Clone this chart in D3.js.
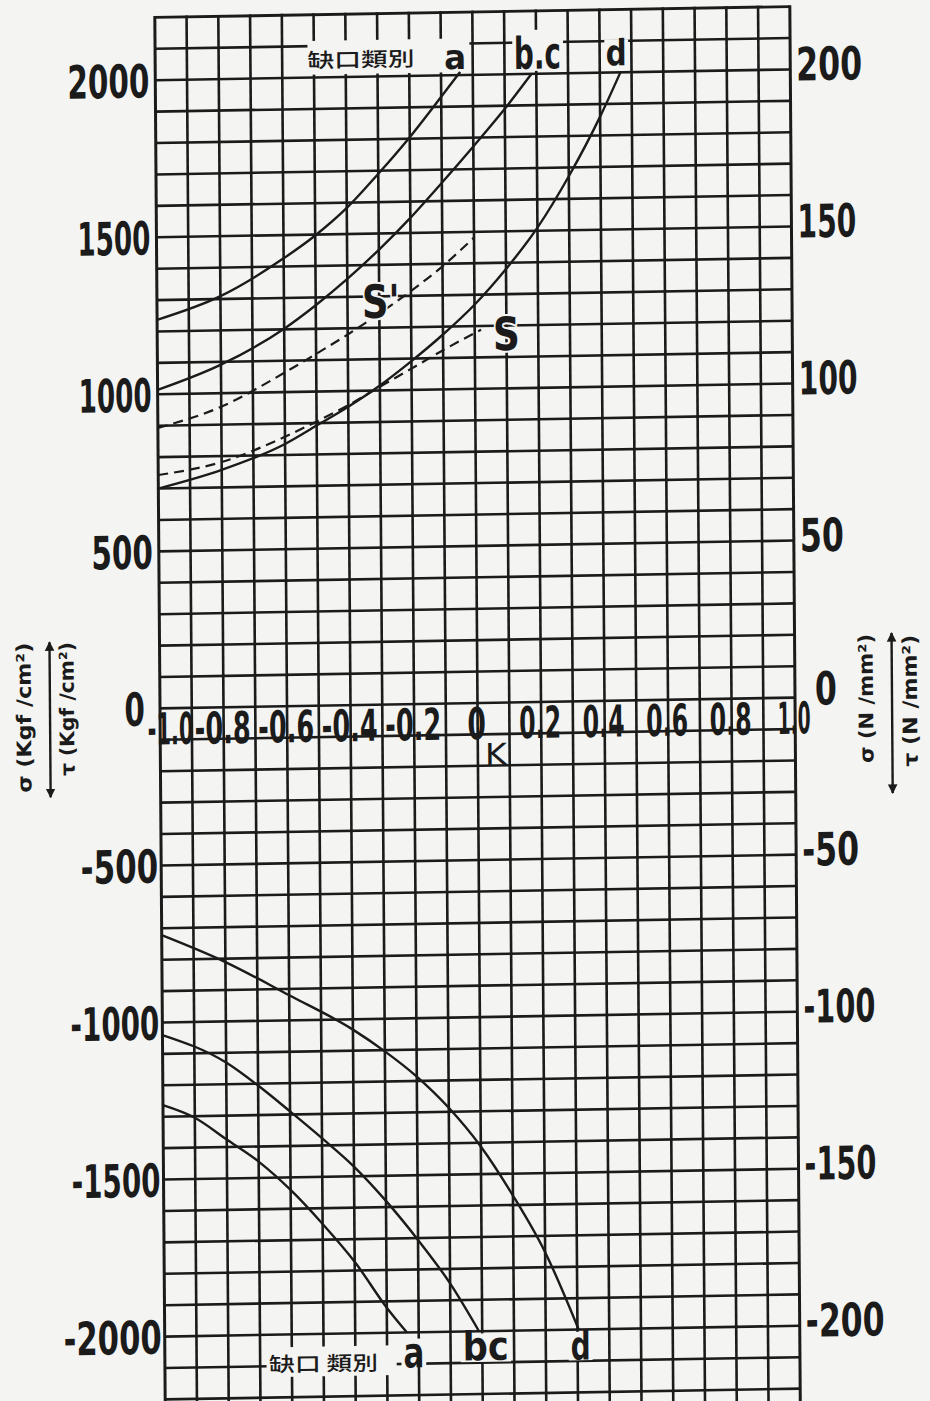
<!DOCTYPE html>
<html><head><meta charset="utf-8">
<script src="https://cdn.jsdelivr.net/npm/d3@7"></script>
<style>
html,body{margin:0;padding:0;background:#f4f4f2;}
svg{display:block;}
</style></head>
<body>
<svg id="chart" width="930" height="1401"></svg>
<script>
// ---------------- data ----------------
const kTicks      = [-1.0,-0.8,-0.6,-0.4,-0.2,0,0.2,0.4,0.6,0.8,1.0];
const kTickLabels = ["-1.0","-0.8","-0.6","-0.4","-0.2","0","0.2","0.4","0.6","0.8","1.0"];
const leftTicks   = [2000,1500,1000,500,0,-500,-1000,-1500,-2000];   // kgf/cm2
const rightTicks  = [200,150,100,50,0,-50,-100,-150,-200];           // N/mm2
const legendTitleTop    = "缺口類別";
const legendTitleBottom = "缺口 類別";
const seriesLabels = ["a","b.c","d","S'","S"];
const bottomLabels = ["a","bc","d"];
const axisLabelLeft  = ["σ (Kgf /cm²)","τ (Kgf /cm²)"];
const axisLabelRight = ["σ (N /mm²)","τ (N /mm²)"];
const kLabel = "K";

// curves: [K, stress kgf/cm2]
const curveA_upper  = [[-1,1237],[-0.8,1309],[-0.6,1426],[-0.5,1497],[-0.4,1583],[-0.3,1690],[-0.2,1805],[-0.1,1932],[-0.04,2010]];
const curveBC_upper = [[-1,1014],[-0.8,1091],[-0.6,1202],[-0.5,1275],[-0.4,1357],[-0.3,1448],[-0.2,1548],[-0.1,1658],[0,1772],[0.1,1890],[0.185,2000]];
const curveD_upper  = [[-1,700],[-0.8,756],[-0.6,835],[-0.5,892],[-0.4,950],[-0.3,1016],[-0.2,1092],[-0.1,1175],[0,1268],[0.1,1380],[0.2,1510],[0.3,1672],[0.4,1860],[0.465,2000]];
const curveSprime   = [[-1,893],[-0.8,957],[-0.6,1062],[-0.5,1120],[-0.4,1180],[-0.3,1245],[-0.2,1315],[-0.1,1392],[0,1482]];
const curveS        = [[-1,743],[-0.8,781],[-0.6,858],[-0.5,905],[-0.4,955],[-0.3,1012],[-0.2,1068],[-0.1,1125],[0.02,1188]];
const curveA_lower  = [[-1,-1263],[-0.9,-1305],[-0.8,-1376],[-0.7,-1448],[-0.6,-1540],[-0.5,-1650],[-0.4,-1772],[-0.3,-1920],[-0.237,-2000]];
const curveBC_lower = [[-1,-1040],[-0.8,-1131],[-0.7,-1206],[-0.6,-1290],[-0.5,-1377],[-0.4,-1469],[-0.3,-1580],[-0.2,-1706],[-0.1,-1846],[-0.01,-2000]];
const curveD_lower  = [[-1,-722],[-0.8,-811],[-0.6,-920],[-0.4,-1033],[-0.3,-1104],[-0.2,-1186],[-0.1,-1287],[0,-1412],[0.1,-1570],[0.2,-1752],[0.304,-2000]];

// ---------------- style ----------------
const paper = "#f4f4f2", ink = "#1b1b1b";
const numFont = "'DejaVu Sans', 'Liberation Sans', sans-serif";
const cjkFont = "'Noto Sans CJK TC', 'Noto Sans CJK JP', sans-serif";
const leftW  = {d:20.5,'1':11.5,'-':16,'.':5};
const rightW = {d:22,'1':15,'-':13,'.':5};
const botW   = {d:18.5,'1':9.5,'-':14,'.':5};
function labW(s, t){ let w=0; for (const ch of s) w += (t[ch] !== undefined ? t[ch] : t.d); return w; }

const svg = d3.select("#chart");
svg.append("rect").attr("width",930).attr("height",1401).attr("fill",paper);
const defs = svg.append("defs");
defs.append("marker").attr("id","arr").attr("viewBox","0 0 10 10").attr("refX",9).attr("refY",5)
  .attr("markerWidth",4).attr("markerHeight",5).attr("markerUnits","strokeWidth")
  .attr("orient","auto-start-reverse")
  .append("path").attr("d","M0,0L10,5L0,10z").attr("fill",ink);

// slight skew of the scanned sheet
const g = svg.append("g").attr("transform","matrix(1,-0.017,0.0075,1,-6.3,5.14)");

const x  = d3.scaleLinear().domain([-1,1]).range([161,796]);
const y  = d3.scaleLinear().domain([2200,-2200]).range([15,1397]);
const yR = d3.scaleLinear().domain([220,-220]).range([y(2200)-6, y(-2200)-6]);

// text helper: horizontally fitted text (so the box really has the wanted width)
function styleText(t, size, font, weight){
  t.style("font-family", font).style("font-size", size + "px")
   .style("font-weight", weight || "normal").attr("fill", ink);
}
function fit(t, px, py, w, anchor, rot){
  t.attr("x",0).attr("y",0).attr("dy",null).attr("text-anchor","start");
  const w0 = t.node().getComputedTextLength();
  const s = w / w0;
  const dx = anchor === "middle" ? -w/2 : anchor === "end" ? -w : 0;
  t.attr("transform", `translate(${px},${py})` + (rot ? ` rotate(${rot})` : "") + ` translate(${dx},0) scale(${s},1)`);
  return t;
}
function label(parent, str, px, py, size, w, font, weight, anchor, rot){
  const t = parent.append("text").text(str);
  styleText(t, size, font, weight);
  return fit(t, px, py, w, anchor, rot);
}

// ---------------- grid ----------------
const hVals = d3.range(-2200, 2201, 100);
const vVals = d3.range(-10, 11).map(i => i/10);
g.append("g").selectAll("line").data(hVals).join("line")
  .attr("x1", x(-1)).attr("x2", x(1))
  .attr("y1", d => y(d)).attr("y2", d => y(d))
  .attr("stroke", ink).attr("stroke-width", d => d === 2200 ? 2.9 : 2.6);
g.append("g").selectAll("line").data(vVals).join("line")
  .attr("x1", d => x(d)).attr("x2", d => x(d))
  .attr("y1", y(2200) - 1.4).attr("y2", y(-2300))
  .attr("stroke", ink).attr("stroke-width", d => Math.abs(d) === 1 ? 3 : 2.6);

// ---------------- knockouts behind legend labels ----------------
const knock = [
  [x(-0.52), y(2117), x(-0.01), y(2009)],
  [x(0.125), y(2140), x(0.285), y(2009)],
  [x(0.415), y(2105), x(0.49),  y(2009)],
  [x(-0.68), y(-2040), x(-0.27), y(-2135)],
  [x(-0.255),y(-2020), x(-0.177),y(-2110)],
  [x(-0.068),y(-2007), x(0.09),  y(-2098)],
  [x(0.272), y(-2007), x(0.347), y(-2098)]
];
g.append("g").selectAll("rect").data(knock).join("rect")
  .attr("x", d => d[0]).attr("y", d => d[1])
  .attr("width", d => d[2]-d[0]).attr("height", d => d[3]-d[1])
  .attr("fill", paper);

// ---------------- curves ----------------
const line = d3.line().x(d => x(d[0])).y(d => y(d[1])).curve(d3.curveMonotoneX);
const solid = [curveA_upper, curveBC_upper, curveD_upper, curveA_lower, curveBC_lower, curveD_lower];
const dashed = [curveSprime, curveS];
g.append("g").selectAll("path").data(solid).join("path")
  .attr("d", line).attr("fill","none").attr("stroke", ink).attr("stroke-width", 2.4);
g.append("g").selectAll("path").data(dashed).join("path")
  .attr("d", line).attr("fill","none").attr("stroke", ink).attr("stroke-width", 2.2)
  .attr("stroke-dasharray","10,6");

// ---------------- axes ----------------
const axL = g.append("g").attr("transform",`translate(${x(-1)},0)`)
  .call(d3.axisLeft(y).tickValues(leftTicks).tickSize(0).tickFormat(d => String(d)));
axL.select(".domain").remove();
axL.selectAll("text").each(function(d){
  const s = String(d), w = labW(s, leftW), t = d3.select(this);
  styleText(t, 46, numFont, "bold");
  const gap = d === 0 ? 15 : (d < 0 ? 3 : 6);
  fit(t, -gap, 16.6, w, "end");
});

const axR = g.append("g").attr("transform",`translate(${x(1)},0)`)
  .call(d3.axisRight(yR).tickValues(rightTicks).tickSize(0).tickFormat(d => String(d)));
axR.select(".domain").remove();
axR.selectAll("text").each(function(d){
  const s = String(d), w = labW(s, rightW), t = d3.select(this);
  styleText(t, 46, numFont, "bold");
  fit(t, d === 0 ? 20 : 6, d === 0 ? 13 : 16.6, w, "start");
});

const axB = g.append("g").attr("transform",`translate(0,${y(0)})`)
  .call(d3.axisBottom(x).tickValues(kTicks).tickSize(0).tickFormat((d,i) => kTickLabels[i]));
axB.select(".domain").remove();
axB.selectAll("text").each(function(d,i){
  const s = kTickLabels[i], t = d3.select(this);
  const w = i === 0 ? 46 : labW(s, botW);
  styleText(t, 44, numFont, "bold");
  fit(t, i === 0 ? 171 - x(-1) : -1.5, 36, w, "middle");
});

label(g, kLabel, x(0) + 7, y(0) + 62, 30, 22, numFont, "normal", "start");

// ---------------- legend / curve labels ----------------
label(g, legendTitleTop, x(-0.52), y(2000) - 10, 20, 107, cjkFont, "500", "start");
label(g, seriesLabels[0], x(-0.055), y(2000) - 6, 34, 22, numFont, "bold", "middle");
label(g, seriesLabels[1], x(0.13),   y(2000) - 5, 44, 47, numFont, "bold", "start");
label(g, seriesLabels[2], x(0.452),  y(2000) - 7, 36, 21, numFont, "bold", "middle");
label(g, seriesLabels[3], x(-0.295), y(1232), 46, 38, numFont, "bold", "middle")
  .attr("stroke", paper).attr("stroke-width", 4).attr("paint-order","stroke");
label(g, seriesLabels[4], x(0.1),    y(1122), 46, 27, numFont, "bold", "middle")
  .attr("stroke", paper).attr("stroke-width", 4).attr("paint-order","stroke");

label(g, legendTitleBottom, x(-0.672), y(-2000) + 37, 20, 109, cjkFont, "500", "start");
label(g, bottomLabels[0], x(-0.216), y(-2000) + 35, 42, 21, numFont, "bold", "middle");
label(g, bottomLabels[1], x(-0.062), y(-2000) + 29, 40, 46, numFont, "bold", "start");
label(g, bottomLabels[2], x(0.31),   y(-2000) + 30, 40, 20, numFont, "bold", "middle");

// ---------------- axis titles (rotated) ----------------
label(g, axisLabelLeft[0], 32, 713, 20, 150, numFont, "bold", "middle", -90);
label(g, axisLabelLeft[1], 75, 705, 20, 134, numFont, "bold", "middle", -90);
label(g, axisLabelRight[0], 874, 708, 20, 129, numFont, "bold", "middle", -90);
label(g, axisLabelRight[1], 918, 711, 20, 132, numFont, "bold", "middle", -90);
g.append("line").attr("x1",51).attr("x2",51).attr("y1",793).attr("y2",638)
  .attr("stroke",ink).attr("stroke-width",2.4).attr("marker-start","url(#arr)").attr("marker-end","url(#arr)");
g.append("line").attr("x1",893).attr("x2",893).attr("y1",803).attr("y2",643)
  .attr("stroke",ink).attr("stroke-width",2.4).attr("marker-start","url(#arr)").attr("marker-end","url(#arr)");
</script>
</body></html>
